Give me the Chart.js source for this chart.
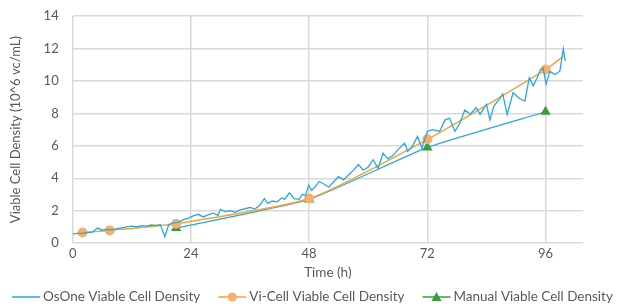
<!DOCTYPE html>
<html>
<head>
<meta charset="utf-8">
<script src="https://cdn.jsdelivr.net/npm/chart.js@4.4.1/dist/chart.umd.min.js"></script>
<style>
  html, body { margin: 0; padding: 0; background: #fff; }
  #wrap { width: 625px; height: 307px; }
</style>
</head>
<body>
<div id="wrap"><canvas id="vcdChart"></canvas></div>
<script>
// Viable cell density data //
var osoneHours = [0, 1, 2, 3, 4, 5, 6, 7, 8, 9, 10, 11, 12, 13, 14, 15, 16, 17, 17.8, 18.7, 19.5, 20.5, 21.5, 22.5, 23.5,
    24.6, 25.5, 26.5, 27.5, 28.5, 29.5, 30, 31, 32, 33, 34, 35, 36, 37, 38, 38.9, 39.6, 40.5, 41.5, 42.5, 43, 44, 45, 46,
    46.6, 47.3, 47.9, 48.5, 49.3, 50, 51, 52, 53, 54, 55, 56, 57, 58, 59, 60, 61, 62, 63, 64, 65, 66, 67.4, 68, 69, 70,
    70.9, 72, 73, 74.5, 75.6, 76.5, 77.6, 78.6, 79.6, 80.7, 81.9, 82.7, 84, 84.7, 85.5, 86.8, 87.3, 88.2, 89.4, 90.8,
    91.8, 92.7, 93.5, 94.3, 94.9, 95.5, 96.1, 96.9, 97.9, 98.9, 99.6, 100];
var osoneValues = [0.58, 0.6, 0.62, 0.65, 0.68, 0.93, 0.8, 0.85, 0.82, 0.9, 0.95, 1.0, 1.05, 1.0, 1.08, 1.05, 1.12, 1.1, 1.15, 0.4, 1.15, 1.25, 1.3, 1.45, 1.55,
    1.7, 1.78, 1.62, 1.75, 1.85, 1.72, 2.09, 1.95, 2.0, 1.9, 2.05, 2.13, 2.2, 2.1, 2.35, 2.75, 2.45, 2.6, 2.55, 2.8, 2.7, 3.1, 2.75, 2.7,
    3.0, 2.95, 3.58, 3.25, 3.5, 3.8, 3.65, 3.45, 3.8, 4.1, 3.9, 4.2, 4.5, 4.85, 4.5, 4.7, 5.15, 4.6, 5.55, 5.2, 5.4, 5.75, 6.17, 5.65, 6.0, 6.58,
    5.86, 6.9, 7.0, 6.9, 7.6, 7.7, 6.9, 7.4, 8.2, 7.95, 8.35, 7.95, 8.55, 7.6, 8.45, 8.96, 9.2, 7.93, 9.27, 8.9,
    8.76, 10.2, 9.7, 10.2, 10.66, 10.8, 9.8, 10.6, 10.4, 10.6, 11.97, 11.24];

var vicellHours = [2, 7.5, 21, 48, 72, 96, 99.5];
var vicellValues = [0.66, 0.79, 1.2, 2.75, 6.4, 10.7, 11.5];

var manualHours = [21, 48, 72, 96];
var manualValues = [0.93, 2.7, 5.9, 8.1];

var xTicks = [0, 24, 48, 72, 96];

var blue = '#29a8e0';
var orange = '#f5a536';
var orangeDot = '#f5b06c';
var green = '#3a9c3a';
var textColor = '#595959';

function toPoints(xs, ys) {
    return xs.map(function (x, i) { return { x: x, y: ys[i] }; });
}

// legend drawn by hand so it stays on one row: line + marker + label
var bottomLegend = {
    id: 'bottomLegend',
    afterDraw: function (chart) {
        var c = chart.ctx;
        var items = [
            { text: chart.data.datasets[0].label, line: blue, marker: null },
            { text: chart.data.datasets[1].label, line: orange, marker: 'circle' },
            { text: chart.data.datasets[2].label, line: green, marker: 'triangle' },
        ];
        var lineLen = 28, gap = 3, spacing = 18;
        c.save();
        c.font = '13.5px Lato';
        c.textBaseline = 'middle';
        var total = 0;
        items.forEach(function (it, i) {
            it.w = c.measureText(it.text).width;
            total += lineLen + gap + it.w + (i > 0 ? spacing : 0);
        });
        var x = (chart.width - total) / 2;
        var y = chart.height - 10;
        items.forEach(function (it) {
            c.strokeStyle = it.line;
            c.lineWidth = 1.5;
            c.beginPath();
            c.moveTo(x, y);
            c.lineTo(x + lineLen, y);
            c.stroke();
            var mx = x + lineLen / 2;
            if (it.marker === 'circle') {
                c.fillStyle = orangeDot;
                c.beginPath();
                c.arc(mx, y, 4.5, 0, Math.PI * 2);
                c.fill();
            } else if (it.marker === 'triangle') {
                c.fillStyle = green;
                c.beginPath();
                c.moveTo(mx, y - 5);
                c.lineTo(mx + 5, y + 4);
                c.lineTo(mx - 5, y + 4);
                c.closePath();
                c.fill();
            }
            c.fillStyle = textColor;
            c.fillText(it.text, x + lineLen + gap, y);
            x += lineLen + gap + it.w + spacing;
        });
        c.restore();
    }
};

var ctx = document.getElementById('vcdChart').getContext('2d');
var vcdChart = new Chart(ctx, {
    type: 'line',
    data: {
        datasets: [
            {
                label: 'OsOne Viable Cell Density',
                data: toPoints(osoneHours, osoneValues),
                borderColor: blue,
                borderWidth: 1.3,
                pointRadius: 0,
                tension: 0,
            },
            {
                label: 'Vi-Cell Viable Cell Density',
                data: toPoints(vicellHours, vicellValues),
                borderColor: orange,
                backgroundColor: orangeDot,
                borderWidth: 1.5,
                pointRadius: [5, 5, 5, 5, 5, 5, 0],
                pointBorderWidth: 0,
                pointBackgroundColor: orangeDot,
                tension: 0.2,
            },
            {
                label: 'Manual Viable Cell Density',
                data: toPoints(manualHours, manualValues),
                borderColor: blue,
                borderWidth: 1.3,
                pointStyle: 'triangle',
                pointRadius: 6,
                pointBorderWidth: 0,
                pointBackgroundColor: green,
                tension: 0.15,
            },
        ],
    },

    options: {
        responsive: true,
        maintainAspectRatio: false,
        animation: false,
        layout: {
            padding: { left: 8, right: 42, top: 16, bottom: 24 }
        },
        scales: {
            x: {
                type: 'linear',
                min: 0,
                max: 103.6,
                afterBuildTicks: function (axis) {
                    axis.ticks = xTicks.map(function (v) { return { value: v }; });
                },
                grid: {
                    color: '#d9d9d9',
                    lineWidth: 1.5,
                    drawTicks: false,
                },
                border: { display: false },
                ticks: {
                    color: textColor,
                    padding: 3,
                    font: { family: 'Lato', size: 13 },
                },
                title: {
                    display: true,
                    text: 'Time (h)',
                    color: textColor,
                    padding: { top: 0, bottom: 2 },
                    font: { family: 'Lato', size: 13.5 },
                },
            },
            y: {
                min: 0,
                max: 14,
                afterFit: function (scale) {
                    // tick padding would otherwise push the plot top down
                    scale.paddingTop = 0;
                },
                ticks: {
                    stepSize: 2,
                    color: textColor,
                    padding: 14,
                    font: { family: 'Lato', size: 13 },
                },
                grid: {
                    color: '#d9d9d9',
                    lineWidth: 1.5,
                    drawTicks: false,
                },
                border: { display: false },
                title: {
                    display: true,
                    text: 'Viable Cell Density (10^6 vc/mL)',
                    color: textColor,
                    padding: { top: 0, bottom: 6 },
                    font: { family: 'Lato', size: 13 },
                },
            },
        },

        plugins: {
            legend: { display: false },
            tooltip: { enabled: false },
        }
    },
    plugins: [bottomLegend]
});
</script>
</body>
</html>
